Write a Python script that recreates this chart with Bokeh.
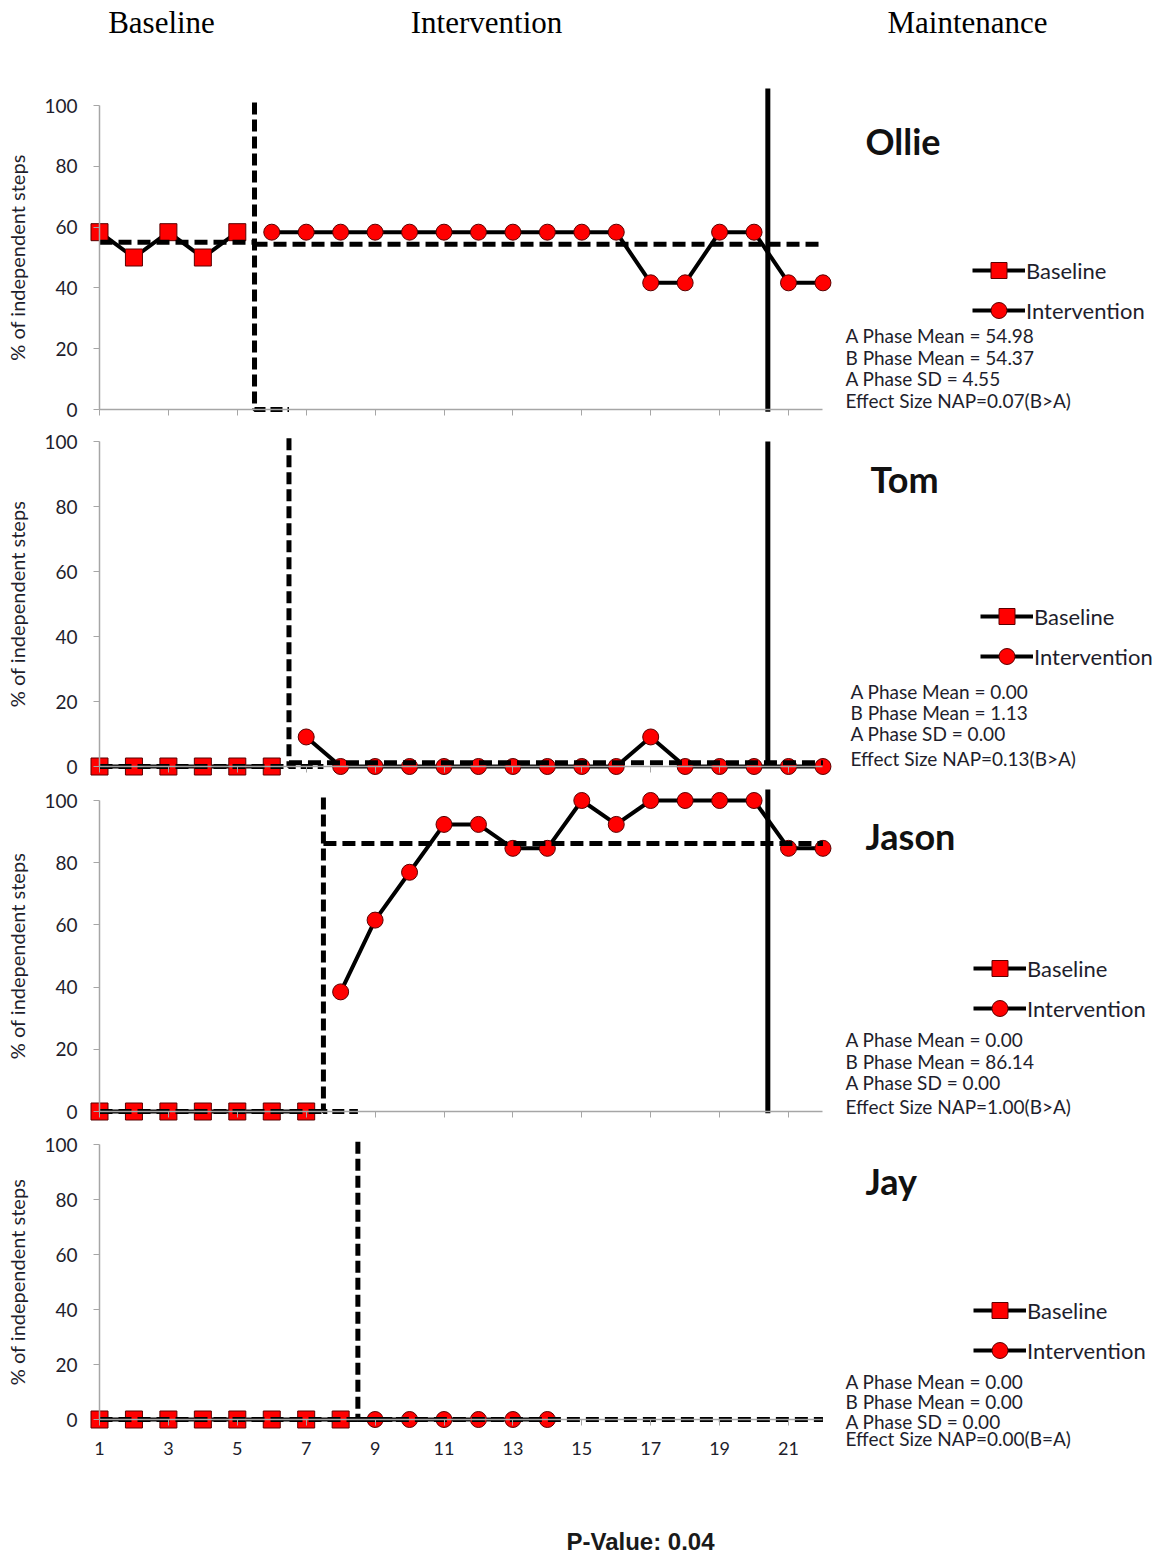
from bokeh.plotting import figure
from bokeh.layouts import column
from bokeh.models import Label, Legend, LegendItem, FixedTicker, Range1d
from bokeh.embed import file_html
from bokeh.resources import INLINE

# ---------------- data ----------------
participants = ["Ollie", "Tom", "Jason", "Jay"]
phase_headers = ["Baseline", "Intervention", "Maintenance"]

ollie_base_sessions = [1, 2, 3, 4, 5]
ollie_base_values = [58.33, 50.00, 58.33, 50.00, 58.33]
ollie_int_sessions = [6, 7, 8, 9, 10, 11, 12, 13, 14, 15, 16, 17, 18, 19, 20, 21, 22]
ollie_int_values = [58.33, 58.33, 58.33, 58.33, 58.33, 58.33, 58.33, 58.33, 58.33,
                    58.33, 58.33, 41.67, 41.67, 58.33, 58.33, 41.67, 41.67]

tom_base_sessions = [1, 2, 3, 4, 5, 6]
tom_base_values = [0, 0, 0, 0, 0, 0]
tom_int_sessions = [7, 8, 9, 10, 11, 12, 13, 14, 15, 16, 17, 18, 19, 20, 21, 22]
tom_int_values = [9.09, 0, 0, 0, 0, 0, 0, 0, 0, 0, 9.09, 0, 0, 0, 0, 0]

jason_base_sessions = [1, 2, 3, 4, 5, 6, 7]
jason_base_values = [0, 0, 0, 0, 0, 0, 0]
jason_int_sessions = [8, 9, 10, 11, 12, 13, 14, 15, 16, 17, 18, 19, 20, 21, 22]
jason_int_values = [38.46, 61.54, 76.92, 92.31, 92.31, 84.62, 84.62, 100.0,
                    92.31, 100.0, 100.0, 100.0, 100.0, 84.62, 84.62]

jay_base_sessions = [1, 2, 3, 4, 5, 6, 7, 8]
jay_base_values = [0, 0, 0, 0, 0, 0, 0, 0]
jay_int_sessions = [9, 10, 11, 12, 13, 14]
jay_int_values = [0, 0, 0, 0, 0, 0]

phase_change = [5.5, 6.5, 7.5, 8.5]
maintenance_start = [20.4, 20.4, 20.4, None]
a_means = [54.98, 0.00, 0.00, 0.00]
b_means = [54.37, 1.13, 86.14, 0.00]
a_sds = [4.55, 0.00, 0.00, 0.00]
nap_texts = ["0.07(B>A)", "0.13(B>A)", "1.00(B>A)", "0.00(B=A)"]
p_value = 0.04

first_session = 1
last_session = 22
x_ticks = [1, 3, 5, 7, 9, 11, 13, 15, 17, 19, 21]
y_ticks = [0, 20, 40, 60, 80, 100]

base_sessions = [ollie_base_sessions, tom_base_sessions, jason_base_sessions, jay_base_sessions]
base_values = [ollie_base_values, tom_base_values, jason_base_values, jay_base_values]
int_sessions = [ollie_int_sessions, tom_int_sessions, jason_int_sessions, jay_int_sessions]
int_values = [ollie_int_values, tom_int_values, jason_int_values, jay_int_values]

# ---------------- layout (page pixels) ----------------
W = 1163
X1_PX = 99.0
PX_PER_SESSION = 34.45
X_START = 1 - X1_PX / PX_PER_SESSION
X_END = X_START + W / PX_PER_SESSION

TXT = "#1E1E2C"
AXC = "#A6A6A6"
FONT = "Lato"
LEG_GH = 40
LEG_SP = 0

panels = [
    dict(top=86, bottom=421, y100=105, y0=409, name=(865, 140), legend=(972, 270),
         stats_x=845, stats_y=[335, 357, 378, 400], maint=(-0.7, 105.6)),
    dict(top=421, bottom=780, y100=441, y0=766, name=(870, 478), legend=(980, 616),
         stats_x=850, stats_y=[691, 712, 733, 758], maint=(0, 100)),
    dict(top=780, bottom=1124, y100=800, y0=1111, name=(865, 835), legend=(973, 968),
         stats_x=845, stats_y=[1039, 1061, 1082, 1106], maint=(-0.6, 103.5)),
    dict(top=1124, bottom=1466, y100=1144, y0=1419, name=(865, 1180), legend=(973, 1310),
         stats_x=845, stats_y=[1381, 1401, 1421, 1438], maint=None),
]


def dx(px):
    return 1 + (px - X1_PX) / PX_PER_SESSION


def blank_fig(h):
    f = figure(width=W, height=h, x_range=Range1d(0, W), y_range=Range1d(0, h),
               output_backend="svg", toolbar_location=None,
               x_axis_location=None, y_axis_location=None)
    f.min_border = 0
    f.outline_line_color = None
    f.grid.visible = False
    return f


# header
HEADER_H = panels[0]["top"]
header = blank_fig(HEADER_H)
for txt, cx in zip(phase_headers, [161, 486, 967]):
    header.add_layout(Label(x=cx, y=HEADER_H - 22, text=txt,
                            text_font="Liberation Serif", text_font_size="31px",
                            text_align="center", text_baseline="middle", text_color="black"))

figs = [header]
for i, name in enumerate(participants):
    L = panels[i]
    ys = (L["y0"] - L["y100"]) / 100.0
    y_start = -(L["bottom"] - L["y0"]) / ys
    y_end = 100 + (L["y100"] - L["top"]) / ys

    def dy(py, L=L, ys=ys):
        return (L["y0"] - py) / ys

    h = L["bottom"] - L["top"]
    p = figure(width=W, height=h, x_range=Range1d(X_START, X_END),
               y_range=Range1d(y_start, y_end), output_backend="svg",
               toolbar_location=None)
    p.min_border = 0
    p.min_border_left = 0
    p.min_border_right = 0
    p.min_border_top = 0
    p.min_border_bottom = 0
    p.outline_line_color = None
    p.grid.visible = False
    p.background_fill_color = "white"

    # axes
    ya = p.yaxis[0]
    ya.fixed_location = first_session
    ya.bounds = (0, 100)
    ya.ticker = FixedTicker(ticks=y_ticks)
    ya.axis_line_color = AXC
    ya.axis_line_width = 1.5
    ya.major_tick_line_color = AXC
    ya.minor_tick_line_color = None
    ya.major_tick_out = 6
    ya.major_tick_in = 0
    ya.major_label_text_font = FONT
    ya.major_label_text_font_size = "19px"
    ya.major_label_text_color = TXT
    ya.major_label_standoff = 16
    ya.axis_label = "% of independent steps"
    ya.axis_label_text_font = FONT
    ya.axis_label_text_font_size = "20px"
    ya.axis_label_text_font_style = "normal"
    ya.axis_label_text_color = TXT
    ya.axis_label_standoff = 12

    xa = p.xaxis[0]
    xa.fixed_location = 0
    xa.bounds = (first_session, last_session)
    xa.ticker = FixedTicker(ticks=x_ticks)
    xa.axis_line_color = AXC
    xa.axis_line_width = 1.5
    xa.major_tick_line_color = AXC
    xa.minor_tick_line_color = None
    xa.major_tick_out = 6
    xa.major_tick_in = 0
    xa.major_label_text_font = FONT
    xa.major_label_text_font_size = "18px"
    xa.major_label_text_color = TXT
    xa.major_label_standoff = 16
    if i < 3:
        xa.major_label_overrides = {t: "" for t in x_ticks}

    # data
    bl = p.line(base_sessions[i], base_values[i], line_color="black", line_width=4)
    bs = p.scatter(base_sessions[i], base_values[i], marker="square", size=17,
                   fill_color="#FF0000", line_color="#5A0000", line_width=1)
    il = p.line(int_sessions[i], int_values[i], line_color="black", line_width=4)
    isc = p.scatter(int_sessions[i], int_values[i], marker="circle", size=16,
                    fill_color="#FF0000", line_color="#5A0000", line_width=1)

    # phase means
    ph = phase_change[i]
    p.line([first_session, ph], [a_means[i], a_means[i]], line_color="black",
           line_width=5, line_dash="13 6")
    p.line([ph, last_session], [b_means[i], b_means[i]], line_color="black",
           line_width=5, line_dash="13 6")
    # phase change line
    p.line([ph, ph, ph + 1], [101, 0, 0], line_color="black", line_width=5,
           line_dash="12 5")
    # maintenance line
    if maintenance_start[i] is not None:
        m = maintenance_start[i]
        p.line([m, m], list(L["maint"]), line_color="black", line_width=5)

    # name
    p.add_layout(Label(x=dx(L["name"][0]), y=dy(L["name"][1]), text=name,
                       text_font=FONT, text_font_style="bold", text_font_size="36px",
                       text_align="left", text_baseline="middle", text_color="#111111"))

    # legend
    lx, lc1 = L["legend"]
    box_top = lc1 - LEG_GH / 2
    box_bottom = box_top + 2 * LEG_GH + LEG_SP
    legend = Legend(items=[LegendItem(label="Baseline", renderers=[bl, bs]),
                           LegendItem(label="Intervention", renderers=[il, isc])],
                    location=(lx, L["bottom"] - box_bottom),
                    glyph_width=53, glyph_height=LEG_GH, spacing=LEG_SP, padding=0, margin=0,
                    label_standoff=1, label_text_font=FONT, label_text_font_size="22px",
                    label_text_color=TXT, border_line_alpha=0, background_fill_alpha=0)
    p.add_layout(legend, "center")

    # stats
    stats = [f"A Phase Mean = {a_means[i]:.2f}",
             f"B Phase Mean = {b_means[i]:.2f}",
             f"A Phase SD = {a_sds[i]:.2f}",
             f"Effect Size NAP={nap_texts[i]}"]
    for s, sy in zip(stats, L["stats_y"]):
        p.add_layout(Label(x=dx(L["stats_x"]), y=dy(sy), text=s, text_font=FONT,
                           text_font_size="19px", text_align="left",
                           text_baseline="middle", text_color=TXT))
    figs.append(p)

# footer
FOOT_TOP = panels[-1]["bottom"]
FOOT_H = 1558 - FOOT_TOP
footer = blank_fig(FOOT_H)
footer.add_layout(Label(x=640, y=FOOT_H - (1541 - FOOT_TOP), text=f"P-Value: {p_value:.2f}",
                        text_font="Liberation Sans", text_font_style="bold",
                        text_font_size="24px", text_align="center", text_baseline="middle",
                        text_color="#1A1A1A"))
figs.append(footer)

layout = column(*figs, spacing=0)
open("out.html", "w").write(file_html(layout, INLINE))
